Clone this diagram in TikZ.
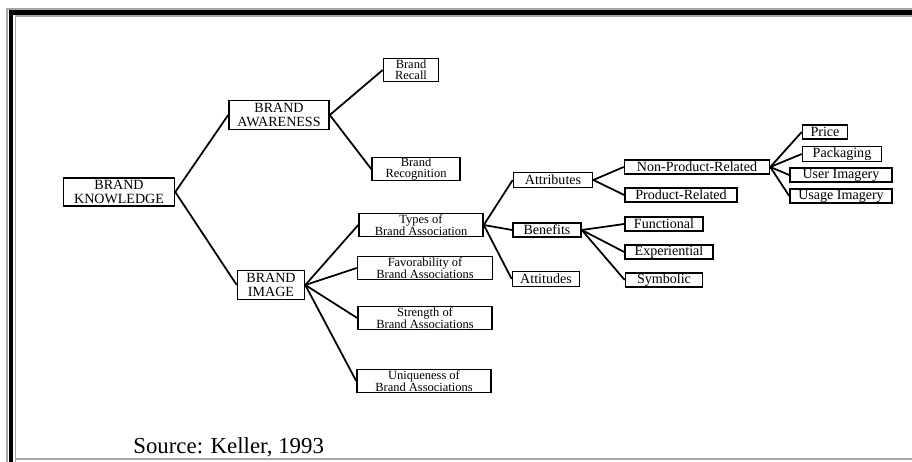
\documentclass[tikz,border=0pt]{standalone}
\usepackage{fontspec}
\setmainfont{Liberation Serif}
\newlength{\pxu}\setlength{\pxu}{0.02cm}
\newcommand{\tightlines}{\setlength{\lineskiplimit}{-6pt}}
\tikzset{
  box/.style={draw, line width=0.9pt, inner sep=0pt, align=center, font=\fontsize{8}{8}\selectfont},
  capbox/.style={box, font=\fontsize{8}{7.6}\selectfont},
  twobox/.style={box, font=\fontsize{7.1}{6.5}\selectfont\tightlines},
  link/.style={line width=1pt}
}
\begin{document}
\begin{tikzpicture}[x=0.02cm, y=-0.02cm]
\useasboundingbox (0,0) rectangle (912,462);
% frame
\draw[gray!70, line width=0.6pt] (7,462)--(7,9)--(912,9);
\draw[line width=2.3pt] (11,462)--(11,12.5)--(912,12.5);
\draw[gray!70, line width=0.6pt] (15.5,462)--(15.5,16)--(912,16);
\draw[gray!70, line width=0.8pt] (16,459)--(912,459);
% first levels
\node[capbox, minimum width=111\pxu, minimum height=28\pxu] (know) at (119,192) {BRAND\\KNOWLEDGE};
\node[capbox, minimum width=100\pxu, minimum height=29\pxu] (aware) at (279,115) {BRAND\\AWARENESS};
\node[capbox, minimum width=67\pxu, minimum height=29\pxu] (image) at (271,285) {BRAND\\IMAGE};
\node[twobox, minimum width=55\pxu, minimum height=23\pxu] (recall) at (411,70) {Brand\\Recall};
\node[twobox, minimum width=88\pxu, minimum height=23\pxu] (recog) at (416,169) {Brand\\Recognition};
\node[twobox, minimum width=124\pxu, minimum height=23\pxu] (types) at (421,225) {Types of\\Brand Association};
\node[twobox, minimum width=135\pxu, minimum height=23\pxu] (favor) at (425,268) {Favorability of\\Brand Associations};
\node[twobox, minimum width=134\pxu, minimum height=23\pxu] (strength) at (425,318) {Strength of\\Brand Associations};
\node[twobox, minimum width=134\pxu, minimum height=23\pxu] (unique) at (424,381) {Uniqueness of\\Brand Associations};
% types of association
\node[box, minimum width=79\pxu, minimum height=15\pxu] (attr) at (553,180) {Attributes};
\node[box, minimum width=68\pxu, minimum height=14\pxu] (benef) at (547,230) {Benefits};
\node[box, minimum width=67\pxu, minimum height=15\pxu] (attit) at (546,279) {Attitudes};
\node[box, minimum width=145\pxu, minimum height=14\pxu] (nonprod) at (697,167) {Non-Product-Related};
\node[box, minimum width=112\pxu, minimum height=14\pxu] (prod) at (681,195) {Product-Related};
\node[box, minimum width=78\pxu, minimum height=14\pxu] (func) at (664,224) {Functional};
\node[box, minimum width=88\pxu, minimum height=14\pxu] (exper) at (669,252) {Experiential};
\node[box, minimum width=77\pxu, minimum height=14\pxu] (symb) at (664,280) {Symbolic};
\node[box, minimum width=45\pxu, minimum height=14\pxu] (price) at (825,132) {Price};
\node[box, minimum width=79\pxu, minimum height=15\pxu] (pack) at (842,154) {Packaging};
\node[box, minimum width=102\pxu, minimum height=14\pxu] (user) at (841,175) {User Imagery};
\node[box, minimum width=102\pxu, minimum height=14\pxu] (usage) at (841,196) {Usage Imagery};
% connectors
\foreach \a/\b in {know/aware, know/image, aware/recall, aware/recog,
  image/types, image/favor, image/strength, image/unique,
  types/attr, types/benef, types/attit, attr/nonprod, attr/prod,
  benef/func, benef/exper, benef/symb,
  nonprod/price, nonprod/pack, nonprod/user, nonprod/usage}
  \draw[link] (\a.east)--(\b.west);
\node[anchor=base west, inner sep=0pt, font=\fontsize{13}{13}\selectfont] (src) at (133,453) {Source: Keller, 1993};
\end{tikzpicture}
\end{document}
